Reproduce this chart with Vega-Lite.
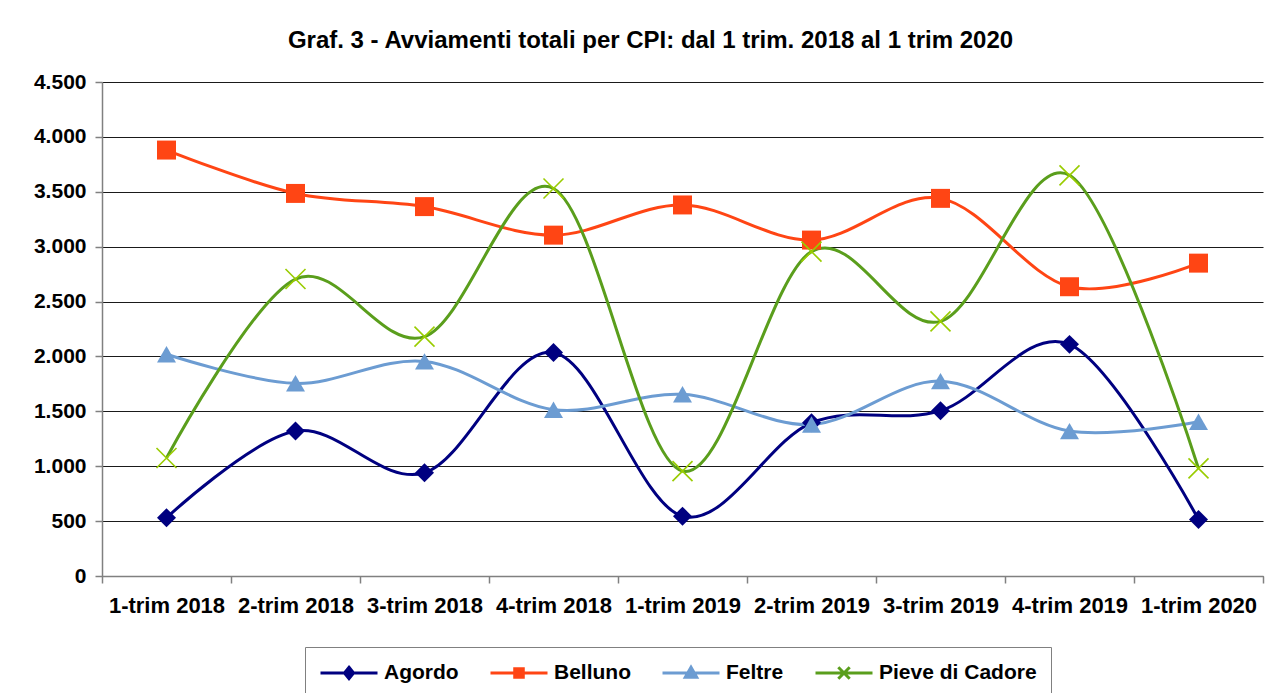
{
  "$schema": "https://vega.github.io/schema/vega-lite/v6.json",
  "width": 1161,
  "height": 494,
  "autosize": "none",
  "padding": {"left": 102, "top": 82, "right": 14, "bottom": 117},
  "background": "white",
  "title": {
    "text": "Graf. 3 - Avviamenti totali per CPI: dal 1 trim. 2018 al 1 trim 2020",
    "font": "Liberation Sans",
    "fontSize": 24,
    "fontWeight": "bold",
    "color": "black",
    "anchor": "middle",
    "frame": "group",
    "dx": -32,
    "offset": -1,
    "baseline": "alphabetic"
  },
  "config": {
    "view": {"stroke": null},
    "axis": {
      "labelFont": "Liberation Sans",
      "labelFontWeight": "bold",
      "labelColor": "black",
      "domainColor": "#808080",
      "domainWidth": 1.5,
      "tickColor": "#808080",
      "tickWidth": 1.5,
      "tickSize": 7,
      "title": null
    }
  },
  "data": {
    "values": [
      {"q": "1-trim 2018", "series": "Agordo", "v": 530},
      {"q": "2-trim 2018", "series": "Agordo", "v": 1320},
      {"q": "3-trim 2018", "series": "Agordo", "v": 940},
      {"q": "4-trim 2018", "series": "Agordo", "v": 2035},
      {"q": "1-trim 2019", "series": "Agordo", "v": 545},
      {"q": "2-trim 2019", "series": "Agordo", "v": 1395},
      {"q": "3-trim 2019", "series": "Agordo", "v": 1505},
      {"q": "4-trim 2019", "series": "Agordo", "v": 2110},
      {"q": "1-trim 2020", "series": "Agordo", "v": 515},
      {"q": "1-trim 2018", "series": "Belluno", "v": 3880},
      {"q": "2-trim 2018", "series": "Belluno", "v": 3485},
      {"q": "3-trim 2018", "series": "Belluno", "v": 3365},
      {"q": "4-trim 2018", "series": "Belluno", "v": 3105},
      {"q": "1-trim 2019", "series": "Belluno", "v": 3380},
      {"q": "2-trim 2019", "series": "Belluno", "v": 3060},
      {"q": "3-trim 2019", "series": "Belluno", "v": 3440},
      {"q": "4-trim 2019", "series": "Belluno", "v": 2635},
      {"q": "1-trim 2020", "series": "Belluno", "v": 2850},
      {"q": "1-trim 2018", "series": "Feltre", "v": 2020},
      {"q": "2-trim 2018", "series": "Feltre", "v": 1755},
      {"q": "3-trim 2018", "series": "Feltre", "v": 1955},
      {"q": "4-trim 2018", "series": "Feltre", "v": 1515},
      {"q": "1-trim 2019", "series": "Feltre", "v": 1655},
      {"q": "2-trim 2019", "series": "Feltre", "v": 1380},
      {"q": "3-trim 2019", "series": "Feltre", "v": 1775},
      {"q": "4-trim 2019", "series": "Feltre", "v": 1320},
      {"q": "1-trim 2020", "series": "Feltre", "v": 1405},
      {"q": "1-trim 2018", "series": "Pieve di Cadore", "v": 1075},
      {"q": "2-trim 2018", "series": "Pieve di Cadore", "v": 2705},
      {"q": "3-trim 2018", "series": "Pieve di Cadore", "v": 2180},
      {"q": "4-trim 2018", "series": "Pieve di Cadore", "v": 3530},
      {"q": "1-trim 2019", "series": "Pieve di Cadore", "v": 955},
      {"q": "2-trim 2019", "series": "Pieve di Cadore", "v": 2955},
      {"q": "3-trim 2019", "series": "Pieve di Cadore", "v": 2320},
      {"q": "4-trim 2019", "series": "Pieve di Cadore", "v": 3650},
      {"q": "1-trim 2020", "series": "Pieve di Cadore", "v": 980}
    ]
  },
  "encoding": {
    "x": {
      "field": "q",
      "type": "nominal",
      "sort": null,
      "scale": {"paddingInner": 0, "paddingOuter": 0},
      "axis": {
        "tickBand": "extent",
        "labelAngle": 0,
        "labelFontSize": 22,
        "labelPadding": 12,
        "grid": false
      }
    },
    "y": {
      "field": "v",
      "type": "quantitative",
      "scale": {"domain": [0, 4500], "nice": false},
      "axis": {
        "values": [0, 500, 1000, 1500, 2000, 2500, 3000, 3500, 4000, 4500],
        "labelExpr": "replace(format(datum.value, ','), ',', '.')",
        "labelFontSize": 21,
        "labelPadding": 9,
        "grid": true,
        "gridColor": "#1a1a1a",
        "gridWidth": 1
      }
    }
  },
  "layer": [
    {
      "mark": {"type": "line", "interpolate": "cardinal", "strokeWidth": 3},
      "encoding": {
        "color": {
          "field": "series",
          "type": "nominal",
          "scale": {
            "domain": ["Agordo", "Belluno", "Feltre", "Pieve di Cadore"],
            "range": ["#000080", "#FF4514", "#6C9CD2", "#5A9E1C"]
          },
          "legend": {
            "orient": "none",
            "legendX": 203,
            "legendY": 565,
            "direction": "horizontal",
            "title": null,
            "labelFont": "Liberation Sans",
            "labelFontSize": 21,
            "labelFontWeight": "bold",
            "labelColor": "black",
            "labelOffset": 5,
            "columnPadding": 30,
            "padding": 14,
            "strokeColor": "#808080",
            "symbolSize": 3249,
            "symbolStrokeWidth": 3,
            "clipHeight": 24,
            "encode": {
              "symbols": {
                "update": {
                  "shape": {"signal": "datum.value === 'Agordo' ? 'M-1,0H1M0,-0.2L0.16,0L0,0.2L-0.16,0Z' : datum.value === 'Belluno' ? 'M-1,0H1M-0.15,-0.15H0.15V0.15H-0.15Z' : datum.value === 'Feltre' ? 'M-1,0H1M0,-0.2L0.2,0.15L-0.2,0.15Z' : 'M-1,0H1M-0.2,-0.2L0.2,0.2M-0.2,0.2L0.2,-0.2'"},
                  "fill": {"signal": "scale('color', datum.value)"},
                  "stroke": {"signal": "scale('color', datum.value)"},
                  "strokeWidth": {"value": 3},
                  "opacity": {"value": 1}
                }
              }
            }
          }
        }
      }
    },
    {
      "transform": [{"filter": "datum.series !== 'Pieve di Cadore'"}],
      "mark": {"type": "point", "filled": true, "opacity": 1, "size": 360},
      "encoding": {
        "color": {"field": "series", "type": "nominal"},
        "shape": {
          "field": "series",
          "type": "nominal",
          "scale": {
            "domain": ["Agordo", "Belluno", "Feltre"],
            "range": ["diamond", "square", "triangle-up"]
          },
          "legend": null
        }
      }
    },
    {
      "transform": [{"filter": "datum.series === 'Pieve di Cadore'"}],
      "mark": {
        "type": "point",
        "filled": false,
        "shape": "M-1,-1L1,1M-1,1L1,-1",
        "size": 400,
        "color": "#99CC00",
        "strokeWidth": 1.6,
        "opacity": 1
      }
    }
  ]
}
